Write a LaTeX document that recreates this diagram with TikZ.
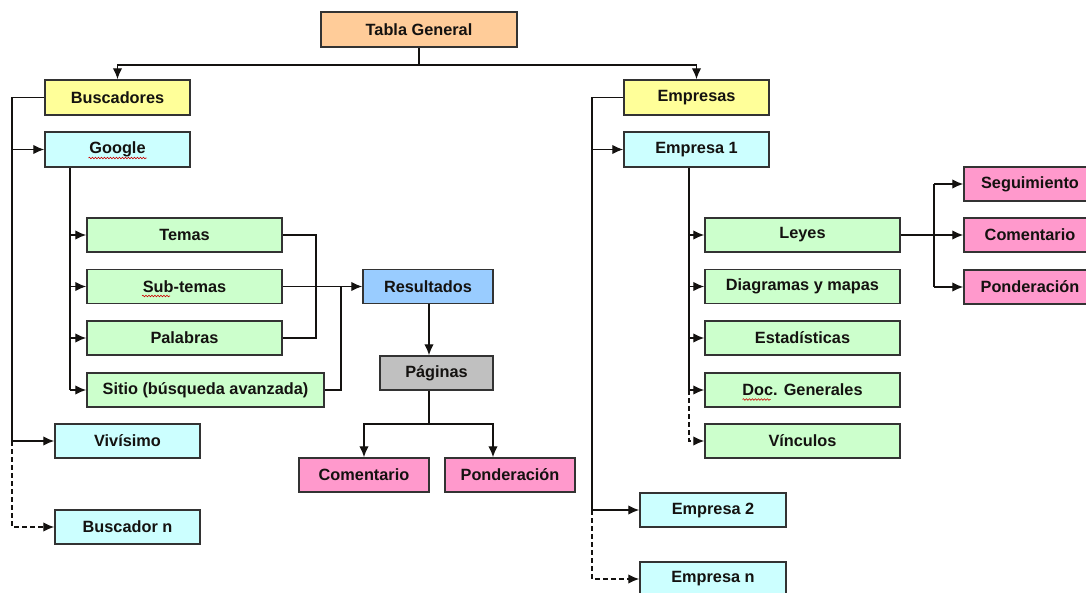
\documentclass[tikz,border=0pt]{standalone}
\usepackage{fontspec}
\setmainfont{Liberation Sans}
\usetikzlibrary{arrows.meta,calc,decorations.pathmorphing}

\definecolor{ink}{HTML}{141210}
\definecolor{boxline}{HTML}{333333}
\definecolor{peach}{HTML}{FFCC99}
\definecolor{lemon}{HTML}{FFFF99}
\definecolor{aqua}{HTML}{CCFFFF}
\definecolor{mint}{HTML}{CCFFCC}
\definecolor{sky}{HTML}{99CCFF}
\definecolor{silver}{HTML}{C0C0C0}
\definecolor{rose}{HTML}{FF99CC}

\begin{document}
\begin{tikzpicture}[x=1pt,y=-1pt,
  box/.style={draw=boxline, line width=1.5pt, inner sep=0pt,
    minimum height=34pt, font=\fontsize{16.3}{18}\selectfont\bfseries, text=ink},
  link/.style={draw=ink, line width=1.4pt},
  arr/.style={link, -{Latex[length=11pt,width=9.5pt]}},
  dashlink/.style={dash pattern=on 5pt off 3pt},
  squiggle/.style={draw=red!80!black, line width=0.6pt, decorate,
    decoration={snake, segment length=3pt, amplitude=0.8pt}}
]
\fill[white] (0,0) rectangle (1086,592);
\clip (0,0) rectangle (1086,592);

% root
\node[box, fill=peach, minimum width=196pt, minimum height=35pt] (tabla) at (419,29.5) {Tabla General};

% search engines branch
\node[box, fill=lemon, minimum width=145pt, minimum height=35pt] (busc) at (117.5,97.5) {Buscadores};
\node[box, fill=aqua, minimum width=145pt, minimum height=35pt] (google) at (117.5,149.5) {Google};
\node[box, fill=mint, minimum width=195pt] (temas) at (184.5,235) {Temas};
\node[box, fill=mint, minimum width=195pt] (subtemas) at (184.5,286.5) {Sub-temas};
\node[box, fill=mint, minimum width=195pt] (palabras) at (184.5,338) {Palabras};
\node[box, fill=mint, minimum width=237pt] (sitio) at (205.5,390) {Sitio (búsqueda avanzada)};
\node[box, fill=aqua, minimum width=145pt] (vivisimo) at (127.5,441) {Vivísimo};
\node[box, fill=aqua, minimum width=145pt] (buscn) at (127.5,527) {Buscador n};

% results
\node[box, fill=sky, minimum width=130pt] (result) at (428,286.5) {Resultados};
\node[box, fill=silver, minimum width=113pt] (paginas) at (436.5,373) {Páginas};
\node[box, fill=rose, minimum width=130pt] (coment) at (364,475) {Comentario};
\node[box, fill=rose, minimum width=130pt] (ponder) at (510,475) {Ponderación};

% companies branch
\node[box, fill=lemon, minimum width=145pt, minimum height=35pt] (empresas) at (696.5,97.5) {Empresas};
\node[box, fill=aqua, minimum width=145pt, minimum height=35pt] (emp1) at (696.5,149.5) {Empresa 1};
\node[box, fill=mint, minimum width=195pt] (leyes) at (802.5,235) {Leyes};
\node[box, fill=mint, minimum width=195pt] (diag) at (802.5,286.5) {Diagramas y mapas};
\node[box, fill=mint, minimum width=195pt] (estad) at (802.5,338) {Estadísticas};
\node[box, fill=mint, minimum width=195pt] (docgen) at (802.5,390) {Doc. Generales};
\node[box, fill=mint, minimum width=195pt] (vinc) at (802.5,441) {Vínculos};
\node[box, fill=aqua, minimum width=146pt] (emp2) at (713,510) {Empresa 2};
\node[box, fill=aqua, minimum width=146pt] (empn) at (713,579) {Empresa n};

\node[box, fill=rose, minimum width=132pt] (seg) at (1030,184) {Seguimiento};
\node[box, fill=rose, minimum width=132pt] (comentR) at (1030,235) {Comentario};
\node[box, fill=rose, minimum width=132pt] (pondR) at (1030,287) {Ponderación};

% spell-check marks
\draw[squiggle] ($(google.center)+(-29,8.5)$) -- ++(58,0);
\draw[squiggle] ($(subtemas.center)+(-42.5,9.5)$) -- ++(28,0);
\draw[squiggle] ($(docgen.center)+(-60,9.5)$) -- ++(28,0);

% guide coordinates for the trunks
\coordinate (hub) at (419,65);
\coordinate (lt) at (12,0);
\coordinate (gt) at (70,0);
\coordinate (bx1) at (316,0);
\coordinate (bx2) at (341,0);
\coordinate (pv) at (429,0);
\coordinate (ph) at (429,424);
\coordinate (pr) at (493,424);
\coordinate (rt) at (592,0);
\coordinate (et) at (689,0);
\coordinate (lx) at (934,0);

% root to the two branches
\draw[link] (tabla.south) -- (hub);
\draw[arr] (hub) -| (busc.north);
\draw[arr] (hub) -| (empresas.north);

% search engines trunk
\draw[link] (busc.west) -- (busc.west -| lt) -- (lt |- vivisimo.west);
\draw[arr] (lt |- google.west) -- (google.west);
\draw[arr] (lt |- vivisimo.west) -- (vivisimo.west);
\draw[arr, dashlink] (lt |- vivisimo.west) -- (lt |- buscn.west) -- (buscn.west);

% Google trunk
\draw[link] (google.south -| gt) -- (gt |- sitio.west);
\draw[arr] (gt |- temas.west) -- (temas.west);
\draw[arr] (gt |- subtemas.west) -- (subtemas.west);
\draw[arr] (gt |- palabras.west) -- (palabras.west);
\draw[arr] (gt |- sitio.west) -- (sitio.west);

% criteria feed the results
\draw[link] (temas.east) -- (temas.east -| bx1) -- (bx1 |- palabras.east) -- (palabras.east);
\draw[link] (sitio.east) -- (sitio.east -| bx2) -- (bx2 |- subtemas.east);
\draw[arr] (subtemas.east) -- (result.west);

% results to pages and their evaluation
\draw[arr] (pv |- result.south) -- (pv |- paginas.north);
\draw[link] (pv |- paginas.south) -- (ph);
\draw[arr] (ph) -| (coment.north);
\draw[arr] (ph) -- (pr) -- (pr |- ponder.north);

% companies trunk
\draw[link] (empresas.west) -- (empresas.west -| rt) -- (rt |- emp2.west);
\draw[arr] (rt |- emp1.west) -- (emp1.west);
\draw[arr] (rt |- emp2.west) -- (emp2.west);
\draw[arr, dashlink] (rt |- emp2.west) -- (rt |- empn.west) -- (empn.west);

% Empresa 1 trunk
\draw[link] (emp1.south -| et) -- (et |- docgen.west);
\draw[arr] (et |- leyes.west) -- (leyes.west);
\draw[arr] (et |- diag.west) -- (diag.west);
\draw[arr] (et |- estad.west) -- (estad.west);
\draw[arr] (et |- docgen.west) -- (docgen.west);
\draw[arr, dashlink] (et |- docgen.west) -- (et |- vinc.west) -- (vinc.west);

% laws fan-out
\draw[arr] (leyes.east) -- (comentR.west);
\draw[link] (lx |- seg.west) -- (lx |- pondR.west);
\draw[arr] (lx |- seg.west) -- (seg.west);
\draw[arr] (lx |- pondR.west) -- (pondR.west);
\end{tikzpicture}
\end{document}
